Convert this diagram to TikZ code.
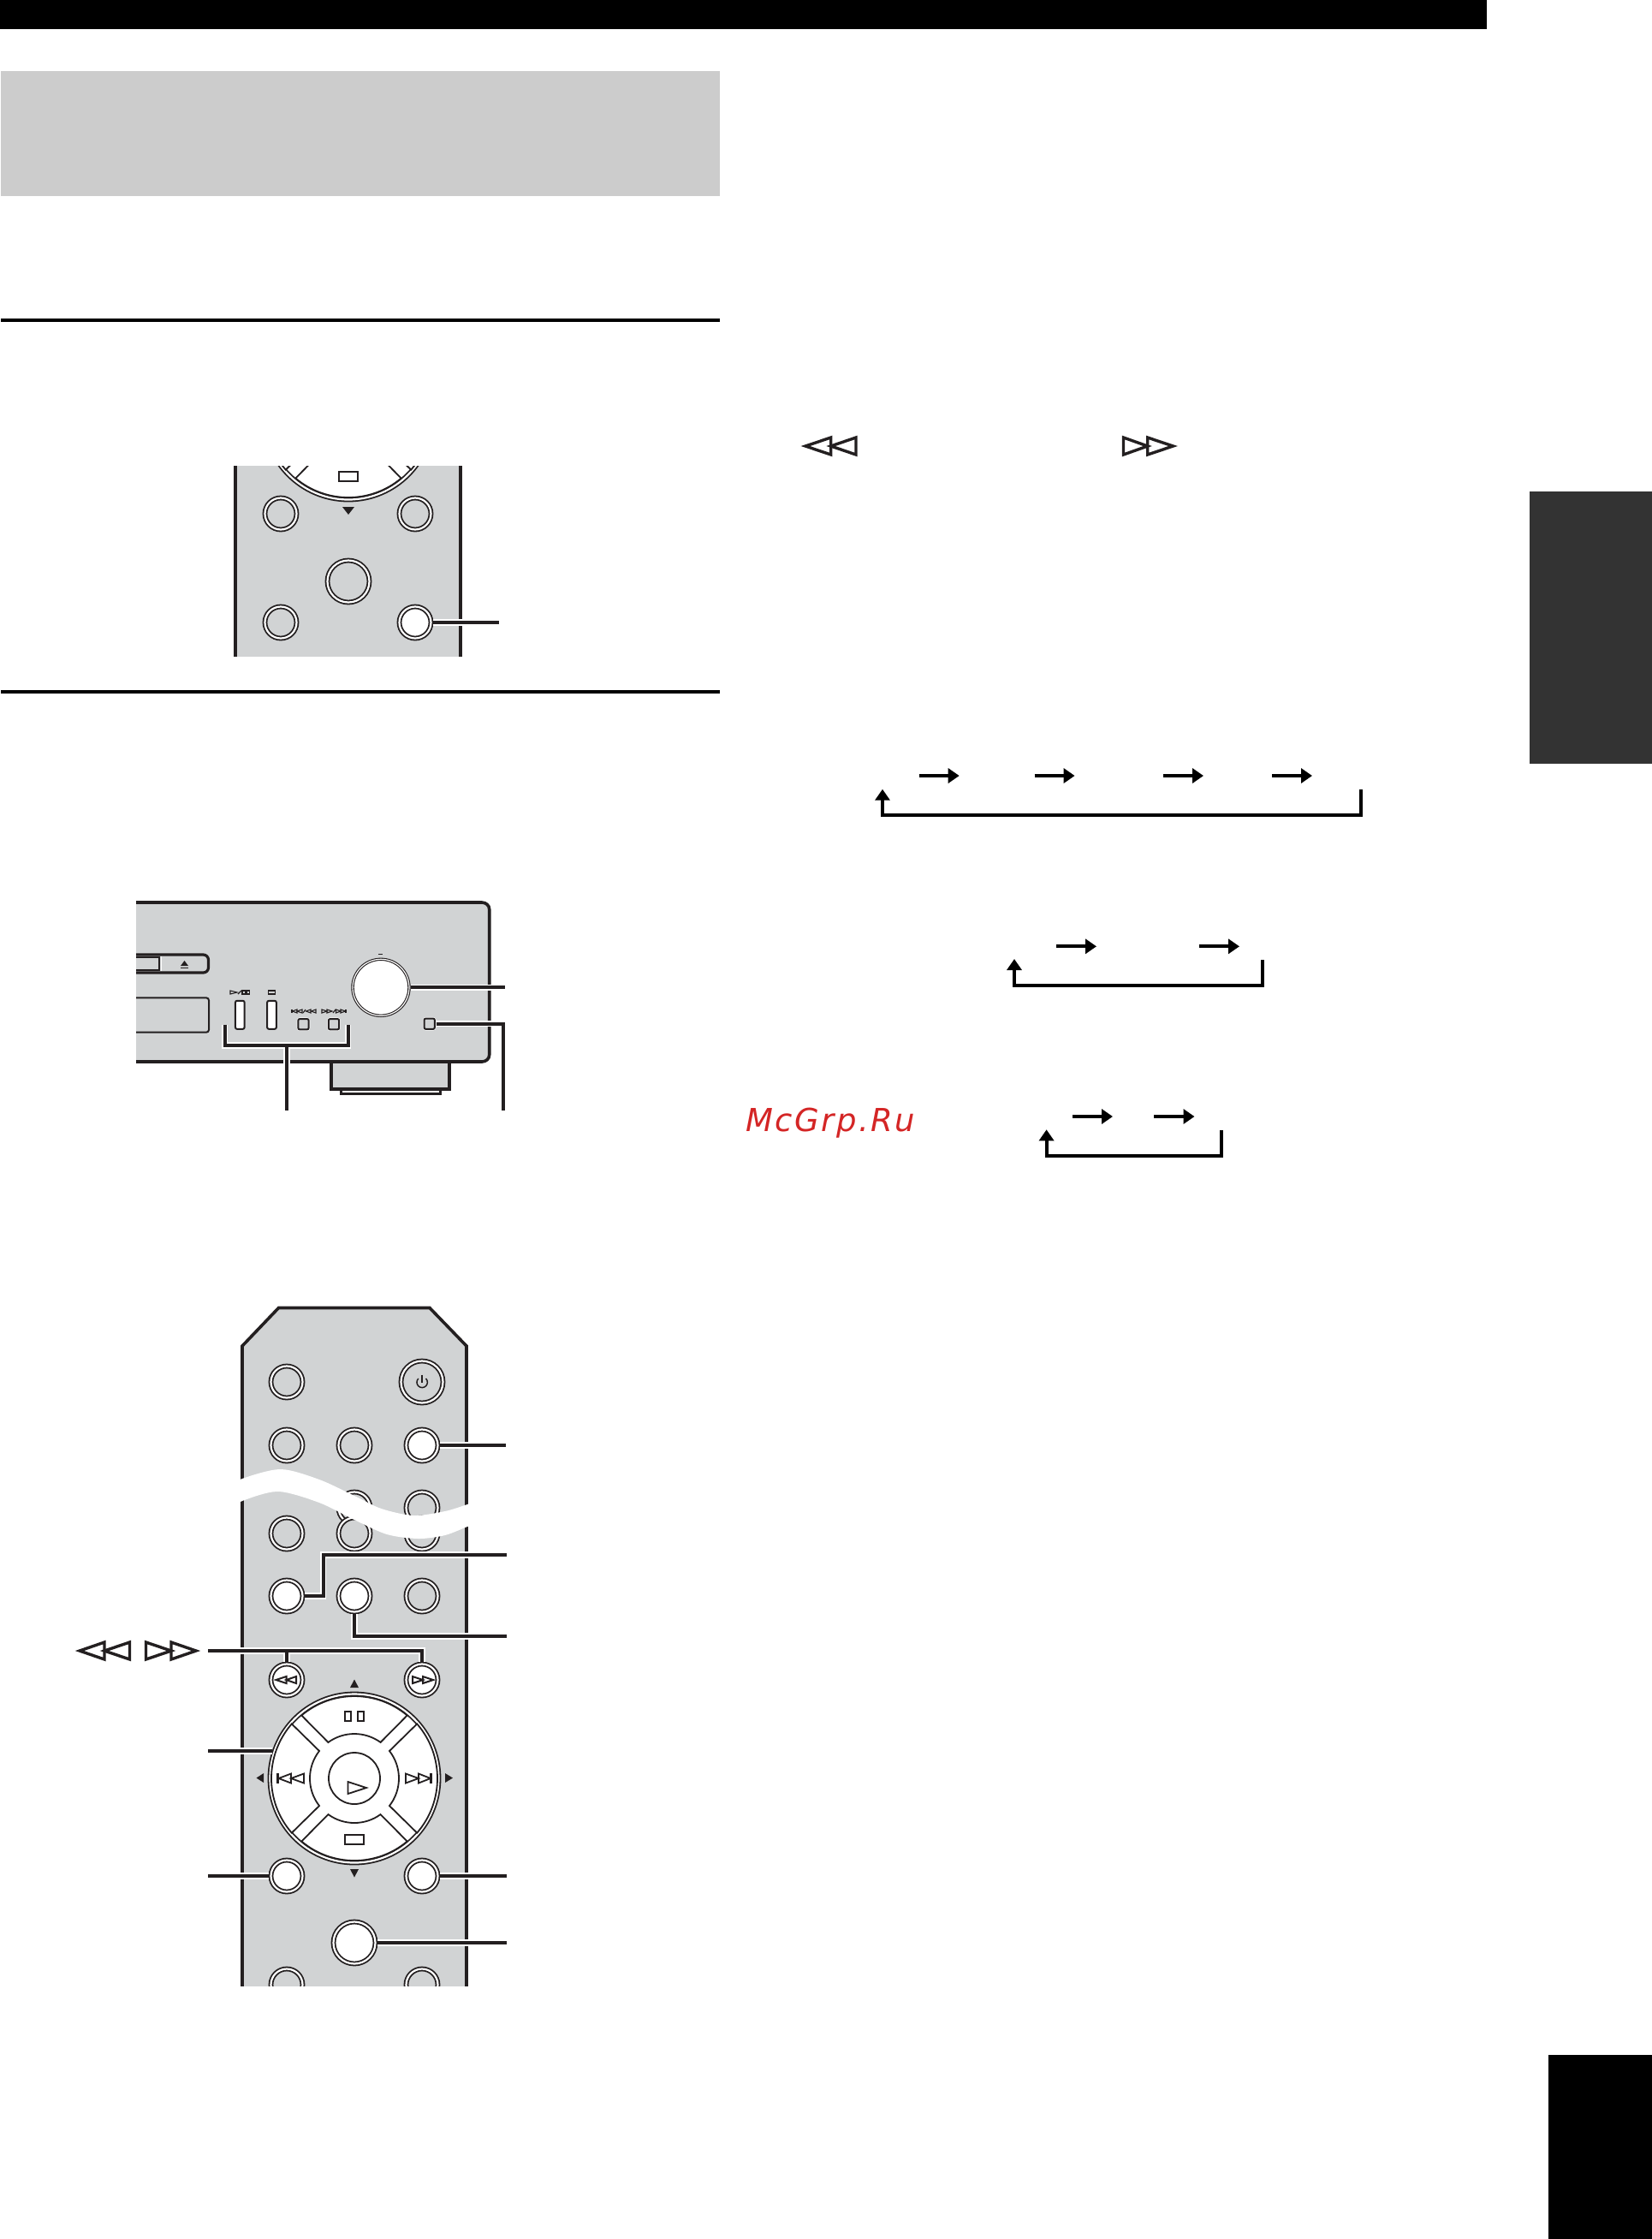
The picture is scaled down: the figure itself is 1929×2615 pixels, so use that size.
\documentclass[tikz,border=0pt]{standalone}
\usepackage{fontspec}
\newfontfamily\markfont[LetterSpace=6.5]{DejaVu Sans}
\usetikzlibrary{arrows.meta,calc}
\definecolor{ink}{HTML}{231F20}
\definecolor{panelgrey}{HTML}{D1D3D4}
\definecolor{headgrey}{HTML}{CCCCCC}
\definecolor{sidegrey}{HTML}{333333}
\definecolor{markred}{HTML}{D42525}
\tikzset{
  btn/.style={circle,draw=ink,line width=.9pt,double=white,double distance=1.1pt,fill=panelgrey,
    minimum size=18.5pt,inner sep=0pt,outer sep=1.25pt},
  btnw/.style={btn,fill=white},
  btnbig/.style={btn,minimum size=24.5pt},
  btnbigw/.style={btnw,minimum size=24.5pt},
  dialring/.style={btnw,line width=.9pt,double distance=1.1pt,minimum size=98.5pt},
  wedge/.style={draw=ink,line width=.9pt,fill=white,line join=miter},
  icon/.style={draw=ink,line width=1pt,line join=miter},
  iconthin/.style={draw=ink,line width=.55pt,line join=miter},
  blob/.style={fill=ink,draw=none},
  lead/.style={preaction={draw=white,line width=3.6pt},draw=ink,line width=2pt},
  cycarrow/.style={draw=black,line width=2pt,-{Triangle[length=6.5pt,width=8.5pt]}},
  loopline/.style={draw=black,line width=2pt,-{Triangle[length=6.5pt,width=8.5pt]}},
  body/.style={draw=ink,line width=1.8pt,line join=miter},
  thinbox/.style={draw=ink,line width=1pt,fill=panelgrey,rounded corners=1.5pt},
  tallkey/.style={draw=ink,line width=1pt,fill=white,rounded corners=1pt,minimum width=5.35pt,minimum height=16.5pt,inner sep=0pt},
  squarekey/.style={draw=ink,line width=1pt,fill=panelgrey,rounded corners=1pt,minimum width=6.2pt,minimum height=6.2pt,inner sep=0pt,
    preaction={draw=white,line width=1.6pt}},
}
% triangle outline: base x, apex x, mid y, half height
\newcommand{\tritip}[5][icon]{\draw[#1] (#2,{#4-#5}) -- (#3,#4) -- (#2,{#4+#5}) -- cycle;}
% dial with its five keys: name, centre
\newcommand{\dialset}[3]{%
  \node[dialring] (#1) at (#2,#3) {};
  \begin{scope}[shift={(#2,#3)},x=0.5pt,y=0.5pt]
    \draw[wedge] (50:96) arc[start angle=50,end angle=130,radius=96] -- (126:52) arc[start angle=126,end angle=54,radius=52] -- cycle;
    \draw[wedge] (230:96) arc[start angle=230,end angle=310,radius=96] -- (306:52) arc[start angle=306,end angle=234,radius=52] -- cycle;
    \draw[wedge] (139:97) arc[start angle=139,end angle=221,radius=97] -- (218:52) arc[start angle=218,end angle=142,radius=52] -- cycle;
    \draw[wedge] (-41:97) arc[start angle=-41,end angle=41,radius=97] -- (38:52) arc[start angle=38,end angle=-38,radius=52] -- cycle;
    \draw[wedge] (0,0) circle[radius=30];
  \end{scope}
  \begin{scope}[shift={(#2,#3)}]
    \draw[icon,line width=.9pt] (-11,-78) rectangle (-4,-67);
    \draw[icon,line width=.9pt] (4,-78) rectangle (11,-67);
    \draw[icon,line width=.9pt] (-11,66) rectangle (11,77);
    \tritip[icon,line width=.9pt]{-7.5}{14}{11}{7}
    \draw[icon,line width=1.4pt] (-89.5,-6) -- (-89.5,6);
    \tritip[icon,line width=.9pt]{-74}{-88.5}{0}{5.5}
    \tritip[icon,line width=.9pt]{-59}{-74}{0}{5.5}
    \draw[icon,line width=1.4pt] (89.5,-6) -- (89.5,6);
    \tritip[icon,line width=.9pt]{60}{75}{0}{5.5}
    \tritip[icon,line width=.9pt]{75}{89}{0}{5.5}
  \end{scope}
}
\begin{document}
\begin{tikzpicture}[x=0.5pt,y=-0.5pt]
\useasboundingbox (0,0) rectangle (1929.6,2615);
\fill[white] (0,0) rectangle (1929.6,2615);

% page furniture
\fill[black] (0,0) rectangle (1737,34);
\fill[headgrey] (1,83) rectangle (840.5,229);
\fill[black] (1,372) rectangle (840.5,376);
\fill[black] (1,806) rectangle (840.5,810);
\fill[sidegrey] (1787,574) rectangle (1929.6,892);
\fill[black] (1809,2400) rectangle (1929.6,2615);

% remote control, excerpt at the top
\begin{scope}
  \clip (270,544) rectangle (545,767);
  \fill[panelgrey] (275,544) rectangle (538,767);
  \dialset{dialA}{407}{485}
  \node[btn] (t11) at (328,600) {};
  \node[btn] (t12) at (485,600) {};
  \node[btnbig] (t2) at (407,679) {};
  \node[btn] (t31) at (328,727) {};
  \node[btnw] (t32) at (485,727) {};
  \fill[blob] (400,592) -- (414,592) -- (407,601) -- cycle;
\end{scope}
\draw[body] (275,544) -- (275,767);
\draw[body] (538,544) -- (538,767);
\coordinate (et) at (583,727);
\draw[lead] (t32.east) -- (et);

% front panel of the player
\coordinate (brL) at (262.7,1196.7);
\coordinate (brR) at (406.7,1196.7);
\coordinate (brB) at (335,1221);
\coordinate (eStem) at (335,1297);
\coordinate (eKnob) at (590,1153.3);
\coordinate (eSq) at (587.7,1297);
\fill[panelgrey] (159,1054) -- (563,1054) to[out=0,in=90] (571.7,1062) -- (571.7,1232) to[out=-90,in=0] (563,1240) -- (159,1240) -- cycle;
\draw[body] (159,1054) -- (563,1054) to[out=0,in=90] (571.7,1062) -- (571.7,1232) to[out=-90,in=0] (563,1240) -- (159,1240);
\draw[body,fill=white,line width=1.5pt] (398,1260) -- (398,1277) -- (514,1277) -- (514,1260);
\draw[body,fill=panelgrey] (387,1240) -- (387,1272) -- (525,1272) -- (525,1240) -- cycle;
\draw[thinbox,line width=1.6pt,rounded corners=3pt] (159,1115) -- (243.5,1115) -- (243.5,1136) -- (159,1136);
\draw[draw=ink,line width=.8pt] (159,1118) -- (186,1118) -- (186,1133) -- (159,1133);
\draw[draw=white,line width=.5pt] (188,1117) -- (188,1134);
\fill[blob] (211,1128) -- (220,1128) -- (215.5,1122) -- cycle;
\fill[blob] (211,1129.5) rectangle (220,1131);
\draw[thinbox] (159,1165.3) -- (244,1165.3) -- (244,1205.7) -- (159,1205.7);
\node[tallkey] (cdP) at (280.3,1185.3) {};
\node[tallkey] (cdS) at (317.5,1185.3) {};
\node[squarekey] (cdL) at (354.5,1196.2) {};
\node[squarekey] (cdR) at (390,1196.2) {};
\node[squarekey,outer sep=.8pt] (cdO) at (501.7,1195.7) {};
\node[btnw,line width=.55pt,double distance=.6pt,minimum size=33pt,outer sep=.8pt] (knob) at (445,1153.3) {};
\fill[blob] (441.5,1113.5) rectangle (447,1114.7);
% small key legends
\tritip[iconthin]{269}{277}{1159}{2}
\draw[iconthin] (278,1161) -- (282,1157);
\draw[iconthin] (283,1157) rectangle (286.5,1161);
\draw[iconthin] (288,1157) rectangle (291.5,1161);
\draw[iconthin] (313.5,1157) rectangle (321.5,1161);
\draw[iconthin] (341,1179) -- (341,1183);
\tritip[iconthin]{347}{341.5}{1181}{2}
\tritip[iconthin]{353}{347}{1181}{2}
\draw[iconthin] (354,1183) -- (357,1179);
\tritip[iconthin]{363}{357.5}{1181}{2}
\tritip[iconthin]{369}{363.5}{1181}{2}
\tritip[iconthin]{376}{382}{1181}{2}
\tritip[iconthin]{382}{388}{1181}{2}
\draw[iconthin] (389,1183) -- (392,1179);
\tritip[iconthin]{392.5}{398}{1181}{2}
\tritip[iconthin]{398}{403.5}{1181}{2}
\draw[iconthin] (404,1179) -- (404,1183);
\draw[lead] (knob.east) -- (eKnob);
\draw[lead] (cdO.east) -| (eSq);
\draw[lead] (brL) -- (brL |- brB) -- (brR |- brB) -- (brR) (brB) -- (eStem);

% remote control, large
\begin{scope}
  \clip (270,1500) rectangle (560,2319.5);
  \fill[panelgrey] (283,1572) -- (325.5,1527.5) -- (502,1527.5) -- (545,1572) -- (545,2320) -- (283,2320) -- cycle;
  \draw[body] (283,2320) -- (283,1572) -- (325.5,1527.5) -- (502,1527.5) -- (545,1572) -- (545,2320);
  \node[btn] (r11) at (335,1614) {};
  \node[btnbig] (power) at (493,1614) {};
  \node[btn] (r21) at (335,1688) {};
  \node[btn] (r22) at (414,1688) {};
  \node[btnw] (r23) at (493,1688) {};
  \node[btn] (r32) at (414,1761) {};
  \node[btn] (r33) at (493,1761) {};
  \node[btn] (r41) at (335,1791) {};
  \node[btn] (r42) at (414,1791) {};
  \node[btn] (r43) at (493,1791) {};
  \node[btnw] (r51) at (335,1864) {};
  \node[btnw] (r52) at (414,1864) {};
  \node[btn] (r53) at (493,1864) {};
  \fill[white] plot[smooth] coordinates {(270,1737) (283,1727) (328,1716) (373,1728) (414,1747) (445.5,1762) (483,1770) (520,1765) (546,1757) (560,1752)}
    -- plot[smooth] coordinates {(560,1778) (546,1783) (520,1793) (489,1797) (452,1792) (414,1775) (373,1755) (325,1742) (283,1753) (270,1763)} -- cycle;
  \node[btnw] (r61) at (335,1962) {};
  \node[btnw] (r62) at (493,1962) {};
  \dialset{dialB}{414}{2077}
  \node[btnw] (r71) at (335,2191) {};
  \node[btnw] (r72) at (493,2191) {};
  \node[btnbigw] (enter) at (414,2269) {};
  \node[btn] (r81) at (335,2318) {};
  \node[btn] (r82) at (493,2318) {};
\end{scope}
\draw[icon,line width=.75pt] (488.8,1610) arc[start angle=135,delta angle=270,radius=3.1pt];
\draw[icon,line width=.75pt] (493,1605.5) -- (493,1615);
\tritip[icon,line width=1pt]{334.5}{322.5}{1962}{4}
\tritip[icon,line width=1pt]{346}{334.5}{1962}{4}
\tritip[icon,line width=1pt]{482}{494}{1962}{4}
\tritip[icon,line width=1pt]{494}{506}{1962}{4}
\fill[blob] (409,1971) -- (419,1971) -- (414,1961.5) -- cycle;
\fill[blob] (409,2183) -- (419,2183) -- (414,2192.5) -- cycle;
\fill[blob] (308,2071) -- (308,2082) -- (299.5,2076.5) -- cycle;
\fill[blob] (520,2071) -- (520,2082) -- (529,2076.5) -- cycle;

% free ends of the leader lines
\coordinate (e23) at (591,1688);
\coordinate (e51) at (592,1816);
\coordinate (e52) at (592,1911);
\coordinate (e6) at (243,1928);
\coordinate (eD) at (243,2045);
\coordinate (e71) at (243,2191);
\coordinate (e72) at (592,2191);
\coordinate (eEnt) at (592,2269);
\coordinate (dJ) at (317.5,2045);
\draw[lead] (r23.east) -- (e23);
\draw[lead] (r51.east) -- ++(21.5,0) |- (e51);
\draw[lead] (r52.south) |- (e52);
\draw[lead] (e6) -| (r62.north) (r61.north) -- (r61.north |- e6);
\draw[lead] (eD) -- (dJ);
\draw[lead] (e71) -- (r71.west);
\draw[lead] (r72.east) -- (e72);
\draw[lead] (enter.east) -- (eEnt);

% double triangles as printed symbols
\tritip[icon,line width=1.7pt]{122}{93}{1928}{10}
\tritip[icon,line width=1.7pt]{151.5}{122}{1928}{10}
\tritip[icon,line width=1.7pt]{170.5}{200}{1928}{10}
\tritip[icon,line width=1.7pt]{200}{229}{1928}{10}
\tritip[icon,line width=1.7pt]{970.7}{941}{521}{10}
\tritip[icon,line width=1.7pt]{1000}{970.7}{521}{10}
\tritip[icon,line width=1.7pt]{1312.5}{1340.7}{521}{10}
\tritip[icon,line width=1.7pt]{1340.7}{1370.5}{521}{10}

% cycles
\foreach \a/\b in {1073.6/1120.7,1208.5/1255.6,1359/1406,1486/1533}
  \draw[cycarrow] (\a,906) -- (\b,906);
\coordinate (la) at (1590,922);
\coordinate (lb) at (1031,921.7);
\draw[loopline] (la) -- (1590,951.7) -- (1031,951.7) -- (lb);
\foreach \a/\b in {1233.8/1281,1400.8/1448}
  \draw[cycarrow] (\a,1105.3) -- (\b,1105.3);
\coordinate (lc) at (1474.5,1121);
\coordinate (ld) at (1185,1120);
\draw[loopline] (lc) -- (1474.5,1151.3) -- (1185,1151.3) -- (ld);
\foreach \a/\b in {1253/1300,1348/1395.5}
  \draw[cycarrow] (\a,1304) -- (\b,1304);
\coordinate (le) at (1427,1320);
\coordinate (lf) at (1222.6,1319.3);
\draw[loopline] (le) -- (1427,1349.7) -- (1222.6,1349.7) -- (lf);

% watermark
\node[anchor=base west,inner sep=0pt,text=markred,font=\markfont\itshape\fontsize{18.5pt}{20pt}\selectfont] (wm) at (871,1321.7) {McGrp.Ru};
\end{tikzpicture}
\end{document}
